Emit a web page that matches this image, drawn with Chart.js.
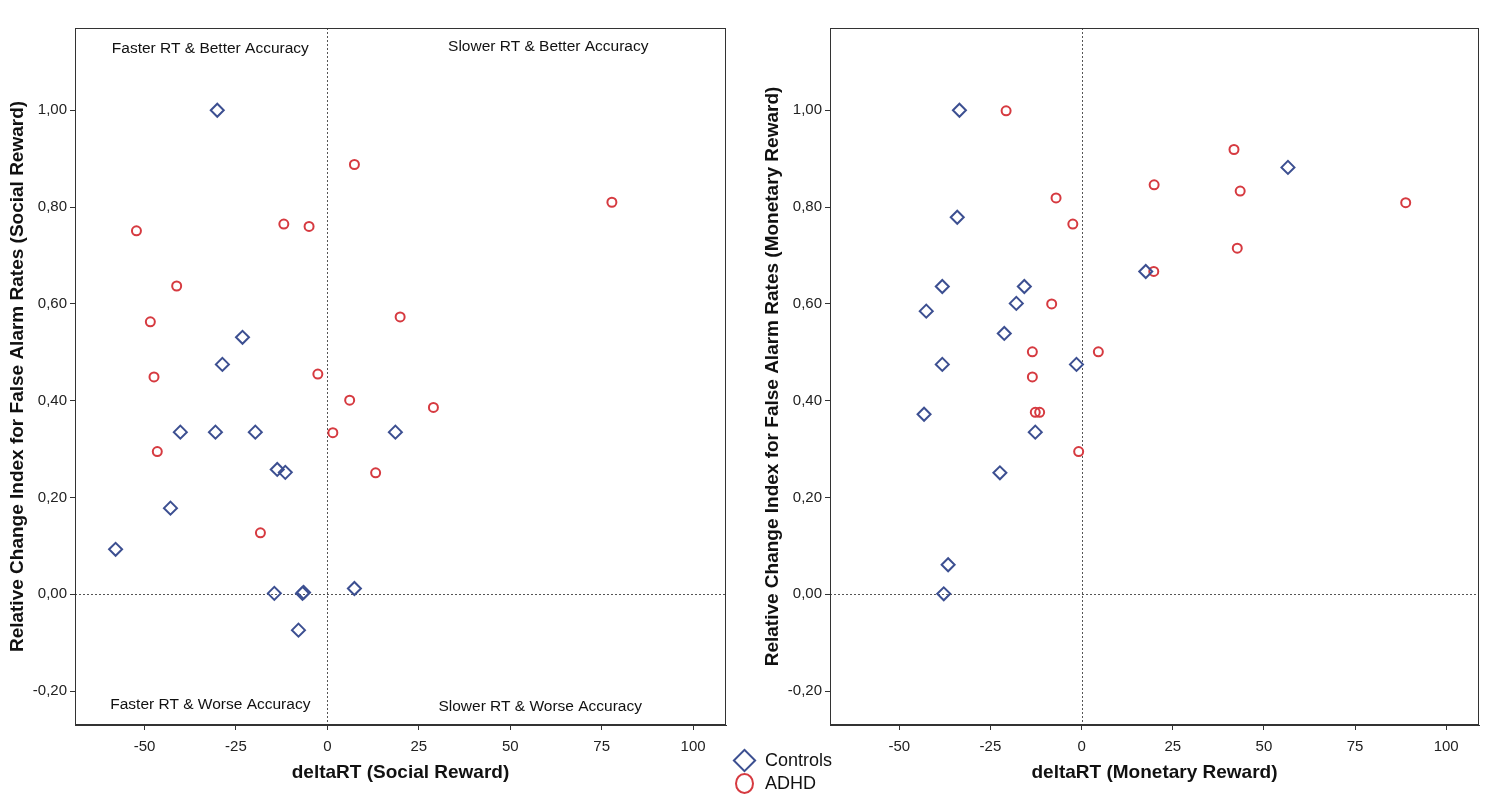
<!DOCTYPE html>
<html>
<head>
<meta charset="utf-8">
<script src="https://cdn.jsdelivr.net/npm/chart.js@4.4.1/dist/chart.umd.min.js"></script>
<style>
  body { margin: 0; background: #fff; width: 1509px; height: 804px; position: relative; overflow: hidden; }
  .box { position: absolute; top: 0; height: 804px; }
  #leftBox { left: 0; width: 740px; }
  #rightBox { left: 755px; width: 754px; }
  .legend { position: absolute; left: 731px; top: 749px; font-family: "Liberation Sans", Arial, sans-serif; font-size: 18px; color: #111; }
  .legend div { height: 23px; line-height: 23px; position: relative; padding-left: 34px; }
  .dia { position: absolute; left: 5px; top: 3px; width: 13px; height: 13px; border: 2px solid #3c4f91; transform: rotate(45deg); }
  .cir { position: absolute; left: 4px; top: 1px; width: 15px; height: 17px; border: 2px solid #d63a40; border-radius: 50%; }
</style>
</head>
<body>
<div class="box" id="leftBox"><canvas id="social"></canvas></div>
<div class="box" id="rightBox"><canvas id="monetary"></canvas></div>
<div class="legend">
  <div><span class="dia"></span>Controls</div>
  <div><span class="cir"></span>ADHD</div>
</div>
<script>
// social reward
var socialControlsRT = [-30.1, -23.2, -28.7, -40.2, -30.6, -19.7, -13.7, -11.5, -42.9, -57.9, -14.5, -6.8, -6.5, 7.4, -7.9, 18.6];
var socialControlsFA = [1.0, 0.531, 0.475, 0.335, 0.335, 0.335, 0.258, 0.252, 0.178, 0.093, 0.002, 0.002, 0.004, 0.012, -0.074, 0.335];
var socialAdhdRT = [-52.2, -48.4, -47.4, -46.5, -41.2, -18.3, -11.9, -5.0, -2.6, 1.5, 6.1, 7.4, 13.2, 19.9, 29.0, 77.8];
var socialAdhdFA = [0.751, 0.563, 0.449, 0.295, 0.637, 0.127, 0.765, 0.760, 0.455, 0.334, 0.401, 0.888, 0.251, 0.573, 0.386, 0.810];

// monetary reward
var monetaryControlsRT = [-33.5, -34.1, -38.2, -42.6, -17.9, -15.7, -21.2, -38.2, -1.4, -43.2, -12.7, -22.4, -36.6, -37.8, 17.6, 56.6];
var monetaryControlsFA = [1.0, 0.779, 0.636, 0.585, 0.601, 0.636, 0.539, 0.475, 0.475, 0.372, 0.335, 0.251, 0.061, 0.001, 0.667, 0.882];
var monetaryAdhdRT = [-20.7, -7.0, -2.4, -8.2, -13.5, 4.6, -13.5, -12.7, -11.5, -0.8, 41.8, 19.9, 43.5, 88.9, 42.7, 19.8];
var monetaryAdhdFA = [0.999, 0.819, 0.765, 0.600, 0.501, 0.501, 0.449, 0.376, 0.376, 0.295, 0.919, 0.846, 0.833, 0.809, 0.715, 0.667];

var xTicks = [-50, -25, 0, 25, 50, 75, 100];
var yTicks = [-0.2, 0, 0.2, 0.4, 0.6, 0.8, 1.0];

var quadrantLabels = [
  { text: 'Faster RT & Better Accuracy', x: -32, y: 1.128 },
  { text: 'Slower RT & Better Accuracy', x: 60.4, y: 1.132 },
  { text: 'Faster RT & Worse Accuracy', x: -32, y: -0.229 },
  { text: 'Slower RT & Worse Accuracy', x: 58.2, y: -0.233 }
];

var plain = '"Liberation Sans", Arial, sans-serif';

function pairs(xs, ys) {
  return xs.map(function (v, i) { return { x: v, y: ys[i] }; });
}

const framePlugin = {
  id: 'frame',
  beforeDatasetsDraw(chart, args, opts) {
    const ctx = chart.ctx, a = chart.chartArea;
    const x = chart.scales.x, y = chart.scales.y;
    ctx.save();
    // zero reference lines
    ctx.strokeStyle = '#555';
    ctx.lineWidth = 1;
    ctx.setLineDash([2, 2]);
    const x0 = Math.round(x.getPixelForValue(0)) + 0.5;
    const y0 = Math.round(y.getPixelForValue(0)) + 0.5;
    ctx.beginPath();
    ctx.moveTo(x0, a.top); ctx.lineTo(x0, a.bottom);
    ctx.moveTo(a.left, y0); ctx.lineTo(a.right, y0);
    ctx.stroke();
    ctx.setLineDash([]);
    ctx.strokeStyle = '#333';
    ctx.strokeRect(a.left + 0.5, a.top + 0.5, a.width - 1, a.height - 1);
    // quadrant captions
    ctx.fillStyle = '#111';
    ctx.font = '15.5px ' + plain;
    ctx.textAlign = 'center';
    ctx.textBaseline = 'middle';
    (opts.labels || []).forEach(function (l) {
      ctx.fillText(l.text, x.getPixelForValue(l.x), y.getPixelForValue(l.y));
    });
    ctx.restore();
  }
};

function makeChart(id, cx, cy, ax, ay, xTitle, yTitle, labels, rightPad) {
  return new Chart(document.getElementById(id), {
    type: 'scatter',
    data: {
      datasets: [{
        label: 'Controls',
        data: pairs(cx, cy),
        pointStyle: 'rectRot',
        pointRadius: 6.5,
        pointHoverRadius: 6.5,
        borderColor: '#3c4f91',
        backgroundColor: 'rgba(0,0,0,0)',
        pointBorderWidth: 2
      }, {
        label: 'ADHD',
        data: pairs(ax, ay),
        pointStyle: 'circle',
        pointRadius: 4.5,
        pointHoverRadius: 4.5,
        borderColor: '#d63a40',
        backgroundColor: 'rgba(0,0,0,0)',
        pointBorderWidth: 2
      }]
    },
    options: {
      responsive: true,
      maintainAspectRatio: false,
      animation: false,
      layout: { padding: { left: 0, top: 28, right: rightPad, bottom: 0 } },
      plugins: {
        legend: { display: false },
        tooltip: { enabled: false },
        frame: { labels: labels }
      },
      scales: {
        x: {
          type: 'linear',
          min: -69,
          max: 109,
          afterBuildTicks: function (s) { s.ticks = xTicks.map(function (v) { return { value: v }; }); },
          afterFit: function (s) { s.height = 79; },
          border: { display: true, color: '#333' },
          grid: { display: true, drawOnChartArea: false, drawTicks: true, tickLength: 5, color: '#333' },
          ticks: { color: '#222', font: { family: plain, size: 15 }, padding: 8 },
          title: { display: true, text: xTitle, color: '#111', font: { family: plain, size: 19, weight: 'bold' }, padding: { top: 0, bottom: 20 } }
        },
        y: {
          type: 'linear',
          min: -0.27,
          max: 1.17,
          afterBuildTicks: function (s) { s.ticks = yTicks.map(function (v) { return { value: v }; }); },
          afterFit: function (s) { s.width = 75; },
          border: { display: true, color: '#333' },
          grid: { display: true, drawOnChartArea: false, drawTicks: true, tickLength: 5, color: '#333' },
          ticks: {
            color: '#222', font: { family: plain, size: 15 }, padding: 3,
            callback: function (v) { return v.toFixed(2).replace('.', ','); }
          },
          title: { display: true, text: yTitle, color: '#111', font: { family: plain, size: 19, weight: 'bold' }, padding: { top: 6, bottom: 0 } }
        }
      }
    },
    plugins: [framePlugin]
  });
}

makeChart('social', socialControlsRT, socialControlsFA, socialAdhdRT, socialAdhdFA,
  'deltaRT (Social Reward)', 'Relative Change Index for False Alarm Rates (Social Reward)', quadrantLabels, 14);
makeChart('monetary', monetaryControlsRT, monetaryControlsFA, monetaryAdhdRT, monetaryAdhdFA,
  'deltaRT (Monetary Reward)', 'Relative Change Index for False Alarm Rates (Monetary Reward)', [], 30);
</script>
</body>
</html>
